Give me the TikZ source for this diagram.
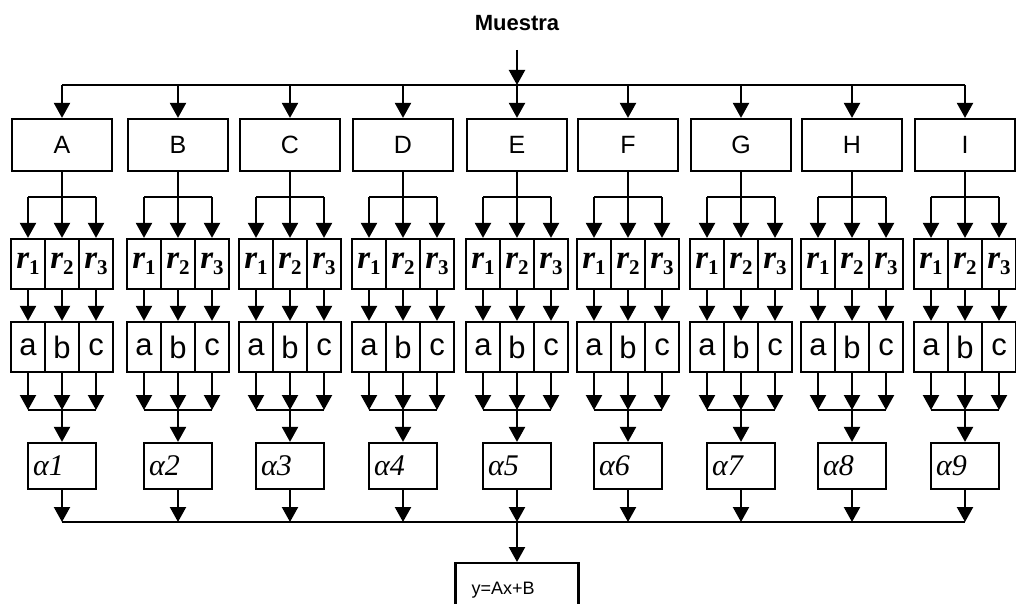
\documentclass[tikz,border=0pt]{standalone}
\usepackage[no-math]{fontspec}
\setmainfont{Liberation Sans}
\newfontfamily\rfont{Liberation Serif}
\usetikzlibrary{arrows.meta}

\newcommand{\rlab}[1]{{\rfont\bfseries\itshape r}\raisebox{-6pt}{\fontsize{21}{21}\selectfont\rfont\bfseries #1}}

\tikzset{
  flecha/.style={line width=2.2pt, -{Triangle[width=16pt,length=15pt]}},
  linea/.style={line width=2.2pt},
  caja/.style={draw, line width=2.2pt, minimum width=100pt, minimum height=52pt, inner sep=0pt, font=\fontsize{25}{25}\selectfont},
  rcaja/.style={draw, line width=2.2pt, minimum width=34pt, minimum height=50pt, inner sep=0pt, font=\fontsize{33}{33}\selectfont},
  abccaja/.style={draw, line width=2.2pt, minimum width=34pt, minimum height=50pt, inner sep=0pt, font=\fontsize{31}{31}\selectfont},
  alfacaja/.style={draw, line width=2.2pt, text width=58pt, inner xsep=5pt, minimum height=46pt, align=left, font=\rfont\itshape\fontsize{30}{30}\selectfont},
}

\begin{document}
\begin{tikzpicture}[x=1pt, y=-1pt]
    \useasboundingbox (0,0) rectangle (1016,604);

    % sample and top bus
    \node[font=\bfseries\fontsize{22}{22}\selectfont] (muestra) at (517,23) {Muestra};
    \coordinate (src) at (517,50);
    \coordinate (busL) at (62,85);
    \coordinate (busM) at (517,85);
    \coordinate (busR) at (965,85);
    \draw[linea] (busL) -- (busR);
    \draw[flecha] (src) -- (busM);

    % bottom bus and result
    \coordinate (botL) at (62,522);
    \coordinate (botM) at (517,522);
    \coordinate (botR) at (965,522);
    \draw[linea] (botL) -- (botR);
    \node[draw, line width=2.2pt, text width=91pt, inner xsep=16pt, text height=13pt, minimum height=56pt, align=left, anchor=north,
          font=\fontsize{18}{18}\selectfont] (recta) at (517,562) {\raisebox{3pt}{y=Ax+B}};
    \draw[flecha] (botM) -- (recta.north);

    % one column per group
    \foreach \cx/\lab/\i in {62/A/1, 178/B/2, 290/C/3, 403/D/4, 517/E/5, 628/F/6, 741/G/7, 852/H/8, 965/I/9} {
      \begin{scope}[xshift=\cx]
        \node[caja] (box\i) at (0,145) {\lab};
        \coordinate (top\i) at (0,85);
        \draw[flecha] (top\i) -- (box\i.north);
        \node[rcaja] (ra\i) at (-34,264) {\rlab{1}};
        \node[rcaja] (rb\i) at (0,264) {\rlab{2}};
        \node[rcaja] (rc\i) at (34,264) {\rlab{3}};
        \node[abccaja] (sa\i) at (-34,347) {a};
        \node[abccaja] (sb\i) at (0,347) {b};
        \node[abccaja] (sc\i) at (34,347) {c};
        \coordinate (spa\i) at (-34,197);
        \coordinate (spb\i) at (0,197);
        \coordinate (spc\i) at (34,197);
        \coordinate (jna\i) at (-34,410);
        \coordinate (jnb\i) at (0,410);
        \coordinate (jnc\i) at (34,410);
        \draw[linea] (box\i.south) -- (spb\i);
        \draw[linea] (spa\i) -- (spc\i);
        \draw[linea] (jna\i) -- (jnc\i);
        \draw[flecha] (spa\i) -- (ra\i.north);
        \draw[flecha] (spb\i) -- (rb\i.north);
        \draw[flecha] (spc\i) -- (rc\i.north);
        \draw[flecha] (ra\i.south) -- (sa\i.north);
        \draw[flecha] (rb\i.south) -- (sb\i.north);
        \draw[flecha] (rc\i.south) -- (sc\i.north);
        \draw[flecha] (sa\i.south) -- (jna\i);
        \draw[flecha] (sb\i.south) -- (jnb\i);
        \draw[flecha] (sc\i.south) -- (jnc\i);
        \node[alfacaja] (alfa\i) at (0,466) {α\i};
        \coordinate (bot\i) at (0,522);
        \draw[flecha] (jnb\i) -- (alfa\i.north);
        \draw[flecha] (alfa\i.south) -- (bot\i);
      \end{scope}
    }
\end{tikzpicture}
\end{document}
